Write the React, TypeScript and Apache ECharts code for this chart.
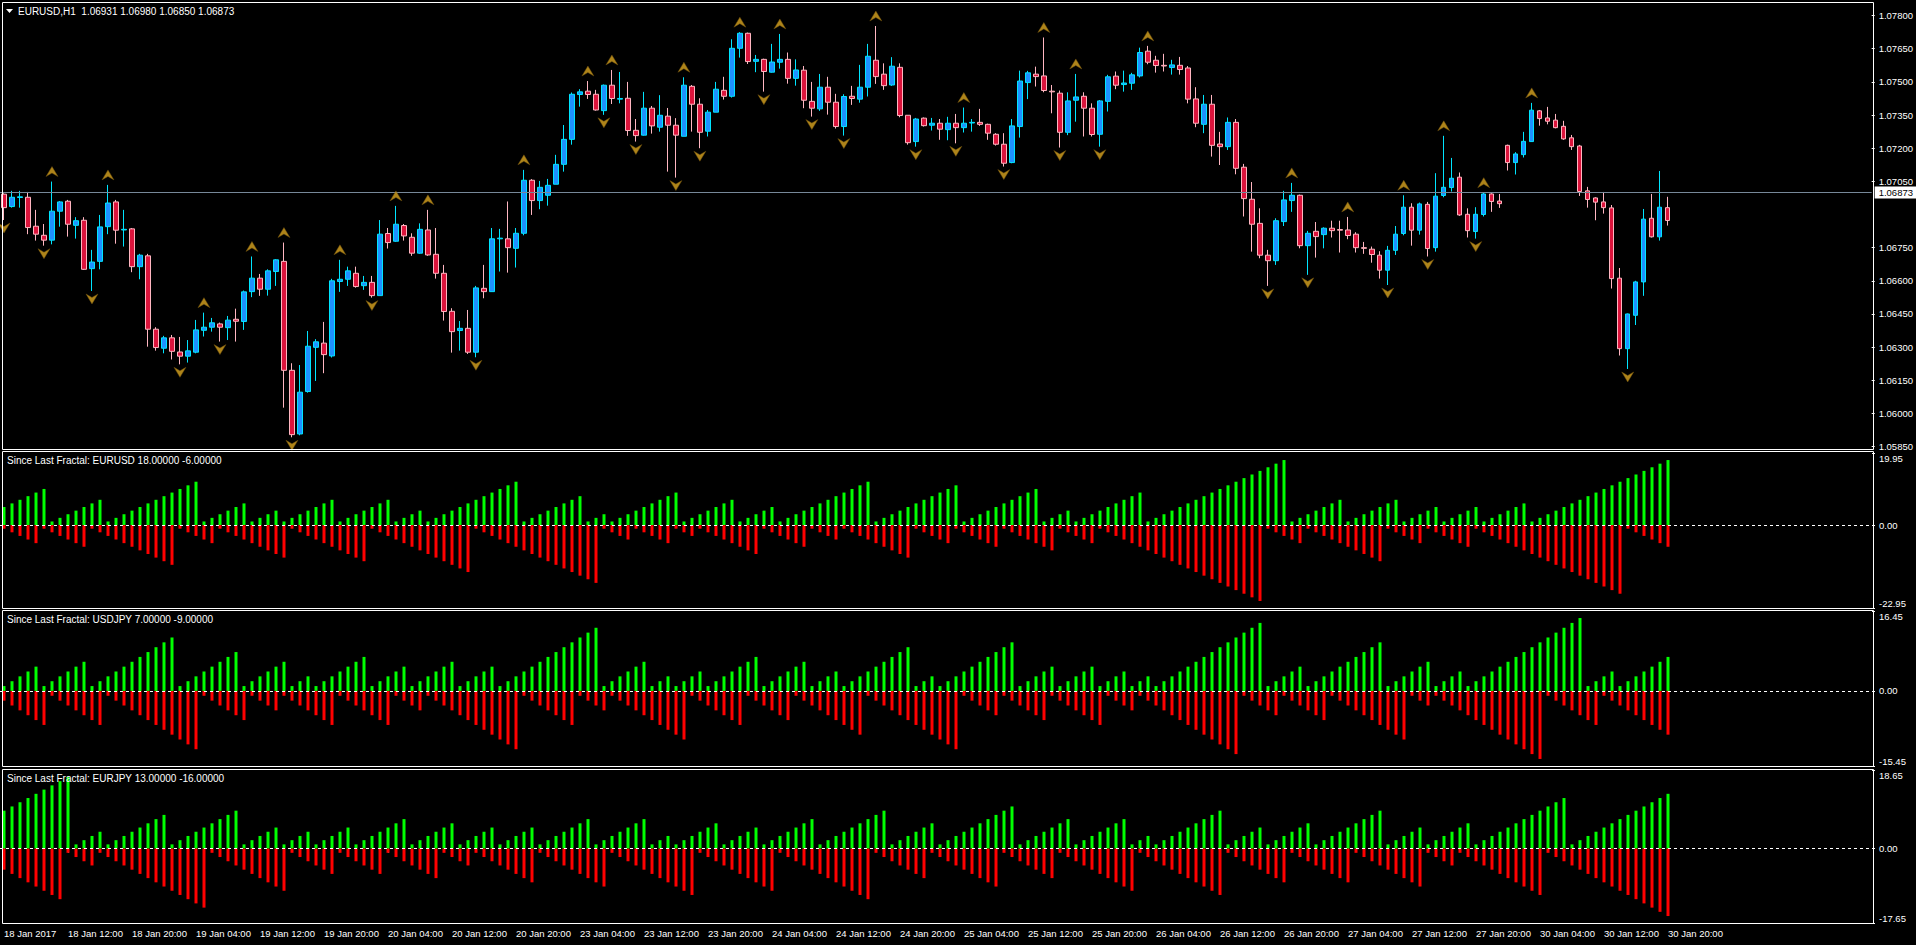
import { useEffect, useRef } from 'react';
import * as echarts from 'echarts';

// [open, close, low, high] — EURUSD H1, 18 Jan 04:00 .. 30 Jan 20:00
const CANDLES: number[][] = [
  [1.06992, 1.06931, 1.06875, 1.06996], [1.06936, 1.06978, 1.06931, 1.07007], [1.06977, 1.06980, 1.06931, 1.07007], [1.06978, 1.06841, 1.06811, 1.07002], [1.06847, 1.06811, 1.06782, 1.06921],
  [1.06806, 1.06784, 1.06759, 1.06857], [1.06784, 1.06915, 1.06765, 1.07049], [1.06915, 1.06957, 1.06845, 1.06961], [1.06960, 1.06856, 1.06800, 1.06966], [1.06851, 1.06872, 1.06791, 1.06888],
  [1.06874, 1.06652, 1.06649, 1.06888], [1.06655, 1.06685, 1.06554, 1.06740], [1.06688, 1.06844, 1.06652, 1.06898], [1.06845, 1.06952, 1.06811, 1.07034], [1.06957, 1.06829, 1.06768, 1.06966],
  [1.06830, 1.06833, 1.06755, 1.06921], [1.06835, 1.06664, 1.06639, 1.06839], [1.06664, 1.06716, 1.06607, 1.06722], [1.06713, 1.06381, 1.06302, 1.06722], [1.06381, 1.06298, 1.06284, 1.06390],
  [1.06295, 1.06342, 1.06272, 1.06351], [1.06342, 1.06281, 1.06244, 1.06355], [1.06278, 1.06259, 1.06222, 1.06346], [1.06259, 1.06283, 1.06230, 1.06332], [1.06277, 1.06378, 1.06272, 1.06423],
  [1.06376, 1.06390, 1.06348, 1.06456], [1.06390, 1.06410, 1.06370, 1.06432], [1.06405, 1.06390, 1.06325, 1.06411], [1.06388, 1.06422, 1.06332, 1.06441], [1.06426, 1.06417, 1.06325, 1.06474],
  [1.06416, 1.06550, 1.06378, 1.06556], [1.06551, 1.06612, 1.06526, 1.06710], [1.06612, 1.06562, 1.06532, 1.06631], [1.06562, 1.06645, 1.06533, 1.06652], [1.06642, 1.06695, 1.06577, 1.06698],
  [1.06688, 1.06195, 1.06026, 1.06773], [1.06195, 1.05904, 1.05892, 1.06227], [1.05907, 1.06096, 1.05901, 1.06219], [1.06099, 1.06304, 1.06094, 1.06373], [1.06299, 1.06324, 1.06147, 1.06336],
  [1.06318, 1.06266, 1.06182, 1.06414], [1.06260, 1.06600, 1.06253, 1.06609], [1.06597, 1.06607, 1.06550, 1.06695], [1.06607, 1.06645, 1.06577, 1.06664], [1.06634, 1.06574, 1.06569, 1.06664],
  [1.06578, 1.06593, 1.06559, 1.06622], [1.06593, 1.06533, 1.06524, 1.06622], [1.06533, 1.06811, 1.06533, 1.06875], [1.06814, 1.06773, 1.06746, 1.06839], [1.06779, 1.06856, 1.06776, 1.06939],
  [1.06850, 1.06803, 1.06782, 1.06857], [1.06797, 1.06725, 1.06713, 1.06815], [1.06725, 1.06833, 1.06722, 1.06860], [1.06830, 1.06717, 1.06713, 1.06921], [1.06720, 1.06634, 1.06610, 1.06839],
  [1.06634, 1.06461, 1.06420, 1.06672], [1.06462, 1.06370, 1.06275, 1.06476], [1.06375, 1.06385, 1.06284, 1.06418], [1.06385, 1.06277, 1.06269, 1.06468], [1.06277, 1.06568, 1.06254, 1.06577],
  [1.06566, 1.06551, 1.06521, 1.06672], [1.06551, 1.06790, 1.06551, 1.06839], [1.06790, 1.06793, 1.06642, 1.06835], [1.06790, 1.06750, 1.06637, 1.06959], [1.06747, 1.06815, 1.06660, 1.06839],
  [1.06815, 1.07055, 1.06806, 1.07102], [1.07055, 1.06963, 1.06898, 1.07060], [1.06963, 1.07023, 1.06924, 1.07052], [1.06987, 1.07032, 1.06940, 1.07061], [1.07037, 1.07127, 1.07037, 1.07170],
  [1.07127, 1.07240, 1.07094, 1.07305], [1.07240, 1.07444, 1.07216, 1.07452], [1.07443, 1.07455, 1.07388, 1.07467], [1.07458, 1.07443, 1.07423, 1.07504], [1.07444, 1.07373, 1.07370, 1.07464],
  [1.07370, 1.07485, 1.07351, 1.07488], [1.07485, 1.07425, 1.07400, 1.07554], [1.07422, 1.07425, 1.07403, 1.07545], [1.07426, 1.07280, 1.07256, 1.07500], [1.07281, 1.07257, 1.07230, 1.07332],
  [1.07259, 1.07381, 1.07257, 1.07455], [1.07381, 1.07301, 1.07266, 1.07391], [1.07295, 1.07349, 1.07275, 1.07440], [1.07345, 1.07304, 1.07094, 1.07382], [1.07304, 1.07259, 1.07067, 1.07336],
  [1.07254, 1.07485, 1.07254, 1.07521], [1.07480, 1.07399, 1.07275, 1.07486], [1.07399, 1.07272, 1.07200, 1.07426], [1.07277, 1.07363, 1.07253, 1.07373], [1.07363, 1.07467, 1.07363, 1.07500],
  [1.07462, 1.07435, 1.07420, 1.07523], [1.07435, 1.07652, 1.07429, 1.07693], [1.07652, 1.07720, 1.07610, 1.07725], [1.07720, 1.07592, 1.07581, 1.07723], [1.07593, 1.07602, 1.07544, 1.07622],
  [1.07602, 1.07547, 1.07456, 1.07605], [1.07544, 1.07590, 1.07542, 1.07672], [1.07589, 1.07602, 1.07560, 1.07717], [1.07602, 1.07516, 1.07492, 1.07633], [1.07516, 1.07554, 1.07483, 1.07602],
  [1.07553, 1.07417, 1.07381, 1.07572], [1.07412, 1.07381, 1.07343, 1.07500], [1.07378, 1.07476, 1.07369, 1.07536], [1.07476, 1.07408, 1.07352, 1.07523], [1.07408, 1.07298, 1.07289, 1.07446],
  [1.07298, 1.07434, 1.07257, 1.07444], [1.07435, 1.07425, 1.07396, 1.07482], [1.07422, 1.07476, 1.07406, 1.07577], [1.07476, 1.07616, 1.07434, 1.07672], [1.07598, 1.07524, 1.07491, 1.07753],
  [1.07535, 1.07483, 1.07464, 1.07584], [1.07486, 1.07571, 1.07482, 1.07612], [1.07566, 1.07348, 1.07340, 1.07584], [1.07349, 1.07225, 1.07216, 1.07349], [1.07230, 1.07332, 1.07207, 1.07337],
  [1.07336, 1.07302, 1.07298, 1.07339], [1.07304, 1.07313, 1.07280, 1.07337], [1.07313, 1.07286, 1.07238, 1.07332], [1.07284, 1.07313, 1.07236, 1.07342], [1.07313, 1.07293, 1.07222, 1.07355],
  [1.07293, 1.07313, 1.07271, 1.07384], [1.07314, 1.07317, 1.07275, 1.07332], [1.07317, 1.07308, 1.07301, 1.07378], [1.07308, 1.07268, 1.07238, 1.07311], [1.07263, 1.07218, 1.07212, 1.07268],
  [1.07218, 1.07132, 1.07117, 1.07268], [1.07135, 1.07301, 1.07132, 1.07332], [1.07298, 1.07504, 1.07248, 1.07551], [1.07497, 1.07541, 1.07422, 1.07550], [1.07535, 1.07524, 1.07479, 1.07569],
  [1.07527, 1.07461, 1.07453, 1.07701], [1.07458, 1.07455, 1.07358, 1.07486], [1.07449, 1.07272, 1.07203, 1.07461], [1.07272, 1.07414, 1.07259, 1.07453], [1.07417, 1.07432, 1.07320, 1.07536],
  [1.07435, 1.07381, 1.07253, 1.07453], [1.07381, 1.07262, 1.07253, 1.07403], [1.07263, 1.07414, 1.07207, 1.07418], [1.07412, 1.07523, 1.07366, 1.07532], [1.07526, 1.07485, 1.07467, 1.07547],
  [1.07488, 1.07495, 1.07456, 1.07551], [1.07494, 1.07532, 1.07464, 1.07541], [1.07527, 1.07633, 1.07520, 1.07655], [1.07639, 1.07589, 1.07580, 1.07663], [1.07598, 1.07574, 1.07542, 1.07618],
  [1.07575, 1.07572, 1.07547, 1.07627], [1.07565, 1.07577, 1.07533, 1.07600], [1.07575, 1.07556, 1.07533, 1.07613], [1.07563, 1.07422, 1.07403, 1.07572], [1.07423, 1.07313, 1.07295, 1.07476],
  [1.07308, 1.07399, 1.07268, 1.07441], [1.07399, 1.07213, 1.07162, 1.07441], [1.07219, 1.07207, 1.07124, 1.07274], [1.07207, 1.07317, 1.07192, 1.07339], [1.07317, 1.07109, 1.07082, 1.07332],
  [1.07114, 1.06972, 1.06891, 1.07129], [1.06969, 1.06856, 1.06732, 1.07047], [1.06860, 1.06716, 1.06702, 1.06928], [1.06716, 1.06691, 1.06577, 1.06740], [1.06691, 1.06872, 1.06672, 1.06883],
  [1.06868, 1.06966, 1.06848, 1.07007], [1.06963, 1.06987, 1.06912, 1.07043], [1.06987, 1.06759, 1.06747, 1.06990], [1.06759, 1.06815, 1.06627, 1.06826], [1.06824, 1.06800, 1.06705, 1.06866],
  [1.06809, 1.06838, 1.06747, 1.06842], [1.06838, 1.06827, 1.06796, 1.06872], [1.06832, 1.06829, 1.06728, 1.06872], [1.06830, 1.06805, 1.06788, 1.06889], [1.06811, 1.06750, 1.06728, 1.06820],
  [1.06750, 1.06747, 1.06722, 1.06776], [1.06743, 1.06719, 1.06682, 1.06755], [1.06716, 1.06648, 1.06610, 1.06734], [1.06648, 1.06738, 1.06581, 1.06758], [1.06738, 1.06811, 1.06717, 1.06848],
  [1.06814, 1.06933, 1.06806, 1.06987], [1.06933, 1.06829, 1.06759, 1.06951], [1.06829, 1.06948, 1.06809, 1.06954], [1.06946, 1.06746, 1.06710, 1.06957], [1.06750, 1.06983, 1.06732, 1.07087],
  [1.06986, 1.07023, 1.06978, 1.07256], [1.07022, 1.07064, 1.07004, 1.07156], [1.07069, 1.06898, 1.06894, 1.07090], [1.06901, 1.06827, 1.06796, 1.06928], [1.06823, 1.06901, 1.06791, 1.06933],
  [1.06900, 1.06993, 1.06891, 1.06999], [1.06993, 1.06959, 1.06912, 1.06996], [1.06961, 1.06949, 1.06930, 1.06993], [1.07213, 1.07135, 1.07099, 1.07216], [1.07135, 1.07174, 1.07081, 1.07182],
  [1.07171, 1.07231, 1.07158, 1.07274], [1.07230, 1.07372, 1.07230, 1.07405], [1.07369, 1.07334, 1.07302, 1.07373], [1.07337, 1.07322, 1.07308, 1.07387], [1.07327, 1.07293, 1.07290, 1.07355],
  [1.07299, 1.07242, 1.07238, 1.07324], [1.07247, 1.07207, 1.07192, 1.07260], [1.07210, 1.07004, 1.06984, 1.07215], [1.07007, 1.06968, 1.06931, 1.07025], [1.06975, 1.06956, 1.06874, 1.06978],
  [1.06957, 1.06931, 1.06904, 1.07002], [1.06930, 1.06610, 1.06565, 1.06943], [1.06612, 1.06293, 1.06262, 1.06658], [1.06293, 1.06450, 1.06201, 1.06452], [1.06444, 1.06595, 1.06400, 1.06600],
  [1.06595, 1.06879, 1.06532, 1.06925], [1.06883, 1.06799, 1.06796, 1.06993], [1.06799, 1.06933, 1.06782, 1.07097], [1.06931, 1.06873, 1.06850, 1.06980],
];

// bar indexes carrying an up / down fractal arrow
const UP_FRACTALS = [6, 13, 25, 31, 35, 42, 49, 53, 65, 73, 76, 85, 92, 97, 109, 120, 130, 134, 143, 161, 168, 175, 180, 185, 191];
const DOWN_FRACTALS = [0, 5, 11, 22, 27, 36, 46, 59, 75, 79, 84, 87, 95, 101, 105, 114, 119, 125, 132, 137, 158, 163, 173, 178, 184, 203];

const TIME_LABELS = [
  '18 Jan 2017', '18 Jan 12:00', '18 Jan 20:00', '19 Jan 04:00', '19 Jan 12:00', '19 Jan 20:00', '20 Jan 04:00',
  '20 Jan 12:00', '20 Jan 20:00', '23 Jan 04:00', '23 Jan 12:00', '23 Jan 20:00', '24 Jan 04:00', '24 Jan 12:00',
  '24 Jan 20:00', '25 Jan 04:00', '25 Jan 12:00', '25 Jan 20:00', '26 Jan 04:00', '26 Jan 12:00', '26 Jan 20:00',
  '27 Jan 04:00', '27 Jan 12:00', '27 Jan 20:00', '30 Jan 04:00', '30 Jan 12:00', '30 Jan 20:00',
];

const PRICE_TICKS = [1.078, 1.0765, 1.075, 1.0735, 1.072, 1.0705, 1.0675, 1.066, 1.0645, 1.063, 1.0615, 1.06, 1.0585];

// "Since Last Fractal" indicator values
const EURUSD_UP = [
  5, 6, 7, 8, 9, 10, 1, 2, 3, 4, 5, 6, 7, 1, 2, 3, 4, 5, 6, 7, 8, 9, 10, 11, 12, 1, 2, 3, 4, 5,
  6, 1, 2, 3, 4, 1, 2, 3, 4, 5, 6, 7, 1, 2, 3, 4, 5, 6, 7, 1, 2, 3, 4, 1, 2, 3, 4, 5, 6, 7,
  8, 9, 10, 11, 12, 1, 2, 3, 4, 5, 6, 7, 8, 1, 2, 3, 1, 2, 3, 4, 5, 6, 7, 8, 9, 1, 2, 3, 4, 5,
  6, 7, 1, 2, 3, 4, 5, 1, 2, 3, 4, 5, 6, 7, 8, 9, 10, 11, 12, 1, 2, 3, 4, 5, 6, 7, 8, 9, 10, 11,
  1, 2, 3, 4, 5, 6, 7, 8, 9, 10, 1, 2, 3, 4, 1, 2, 3, 4, 5, 6, 7, 8, 9, 1, 2, 3, 4, 5, 6, 7,
  8, 9, 10, 11, 12, 13, 14, 15, 16, 17, 18, 1, 2, 3, 4, 5, 6, 7, 1, 2, 3, 4, 5, 6, 7, 1, 2, 3, 4, 5,
  1, 2, 3, 4, 5, 1, 2, 3, 4, 5, 6, 1, 2, 3, 4, 5, 6, 7, 8, 9, 10, 11, 12, 13, 14, 15, 16, 17, 18,
];
const EURUSD_DN = [
  -1, -2, -3, -4, -5, -1, -2, -3, -4, -5, -6, -1, -2, -3, -4, -5, -6, -7, -8, -9,
  -10, -11, -1, -2, -3, -4, -5, -1, -2, -3, -4, -5, -6, -7, -8, -9, -1, -2, -3, -4,
  -5, -6, -7, -8, -9, -10, -1, -2, -3, -4, -5, -6, -7, -8, -9, -10, -11, -12, -13, -1,
  -2, -3, -4, -5, -6, -7, -8, -9, -10, -11, -12, -13, -14, -15, -16, -1, -2, -3, -4, -1,
  -2, -3, -4, -5, -1, -2, -3, -1, -2, -3, -4, -5, -6, -7, -8, -1, -2, -3, -4, -5,
  -6, -1, -2, -3, -4, -1, -2, -3, -4, -5, -6, -7, -8, -9, -1, -2, -3, -4, -5, -1,
  -2, -3, -4, -5, -6, -1, -2, -3, -4, -5, -6, -7, -1, -2, -3, -4, -5, -1, -2, -3,
  -4, -5, -6, -7, -8, -9, -10, -11, -12, -13, -14, -15, -16, -17, -18, -19, -20, -21, -1, -2,
  -3, -4, -5, -1, -2, -3, -4, -5, -6, -7, -8, -9, -10, -1, -2, -3, -4, -5, -1, -2,
  -3, -4, -5, -6, -1, -2, -3, -4, -5, -6, -7, -8, -9, -10, -11, -12, -13, -14, -15, -16,
  -17, -18, -19, -1, -2, -3, -4, -5, -6,
];
const USDJPY_UP = [
  1, 2, 3, 4, 5, 1, 2, 3, 4, 5, 6, 1, 2, 3, 4, 5, 6, 7, 8, 9,
  10, 11, 1, 2, 3, 4, 5, 6, 7, 8, 1, 2, 3, 4, 5, 6, 1, 2, 3, 1,
  2, 3, 4, 5, 6, 7, 1, 2, 3, 4, 5, 1, 2, 3, 4, 5, 6, 1, 2, 3,
  4, 5, 1, 2, 3, 4, 5, 6, 7, 8, 9, 10, 11, 12, 13, 1, 2, 3, 4, 5,
  6, 1, 2, 3, 1, 2, 3, 4, 1, 2, 3, 4, 5, 6, 7, 1, 2, 3, 4, 5,
  6, 1, 2, 3, 4, 1, 2, 3, 4, 5, 6, 7, 8, 9, 1, 2, 3, 1, 2, 3,
  4, 5, 6, 7, 8, 9, 10, 1, 2, 3, 4, 5, 1, 2, 3, 4, 5, 1, 2, 3,
  4, 1, 2, 3, 1, 2, 3, 4, 5, 6, 7, 8, 9, 10, 11, 12, 13, 14, 1, 2,
  3, 4, 5, 1, 2, 3, 4, 5, 6, 7, 8, 9, 10, 1, 2, 3, 4, 5, 6, 1,
  2, 3, 4, 1, 2, 3, 4, 5, 6, 7, 8, 9, 10, 11, 12, 13, 14, 15, 1, 2,
  3, 4, 1, 2, 3, 4, 5, 6, 7,
];
const USDJPY_DN = [
  -2, -3, -4, -5, -6, -7, -1, -2, -3, -4, -5, -6, -7, -1, -2, -3, -4, -5, -6, -7,
  -8, -9, -10, -11, -12, -1, -2, -3, -4, -5, -6, -1, -2, -3, -4, -1, -2, -3, -4, -5,
  -6, -7, -1, -2, -3, -4, -5, -6, -7, -1, -2, -3, -4, -1, -2, -3, -4, -5, -6, -7,
  -8, -9, -10, -11, -12, -1, -2, -3, -4, -5, -6, -7, -1, -2, -3, -4, -1, -2, -3, -4,
  -5, -6, -7, -8, -9, -10, -1, -2, -3, -4, -5, -6, -7, -1, -2, -3, -4, -5, -6, -1,
  -2, -3, -4, -5, -6, -7, -8, -9, -1, -2, -3, -4, -5, -6, -7, -8, -9, -10, -11, -12,
  -1, -2, -3, -4, -5, -1, -2, -3, -4, -5, -6, -1, -2, -3, -4, -5, -6, -7, -1, -2,
  -3, -4, -1, -2, -3, -4, -5, -6, -7, -8, -9, -10, -11, -12, -13, -1, -2, -3, -4, -5,
  -1, -2, -3, -4, -5, -6, -1, -2, -3, -4, -5, -6, -7, -8, -9, -10, -1, -2, -3, -1,
  -2, -3, -4, -5, -6, -7, -8, -9, -10, -11, -12, -13, -14, -1, -2, -3, -4, -5, -6, -7,
  -1, -2, -3, -4, -5, -6, -7, -8, -9,
];
const EURJPY_UP = [
  9, 10, 11, 12, 13, 14, 15, 16, 17, 1, 2, 3, 4, 1, 2, 3, 4, 5, 6, 7,
  8, 1, 2, 3, 4, 5, 6, 7, 8, 9, 1, 2, 3, 4, 5, 1, 2, 3, 4, 1,
  2, 3, 4, 5, 1, 2, 3, 4, 5, 6, 7, 1, 2, 3, 4, 5, 6, 1, 2, 3,
  4, 5, 1, 2, 3, 4, 5, 1, 2, 3, 4, 5, 6, 7, 1, 2, 3, 4, 5, 6,
  7, 1, 2, 3, 1, 2, 3, 4, 5, 6, 1, 2, 3, 4, 5, 1, 2, 3, 4, 5,
  6, 7, 1, 2, 3, 4, 5, 6, 7, 8, 9, 1, 2, 3, 4, 5, 6, 1, 2, 3,
  4, 5, 6, 7, 8, 9, 10, 1, 2, 3, 4, 5, 6, 7, 1, 2, 3, 4, 5, 6,
  7, 1, 2, 3, 1, 2, 3, 4, 5, 6, 7, 8, 9, 1, 2, 3, 4, 5, 1, 2,
  3, 4, 5, 6, 1, 2, 3, 4, 5, 6, 7, 8, 9, 1, 2, 3, 4, 5, 1, 2,
  3, 4, 5, 6, 1, 2, 3, 4, 5, 6, 7, 8, 9, 10, 11, 12, 1, 2, 3, 4,
  5, 6, 7, 8, 9, 10, 11, 12, 13,
];
const EURJPY_DN = [
  -5, -6, -7, -8, -9, -10, -11, -12, -1, -2, -3, -4, -1, -2, -3, -4, -5, -6, -7, -8,
  -9, -10, -11, -12, -13, -14, -1, -2, -3, -4, -5, -6, -7, -8, -9, -10, -1, -2, -3, -4,
  -5, -6, -1, -2, -3, -4, -5, -6, -1, -2, -3, -4, -5, -6, -7, -1, -2, -3, -4, -1,
  -2, -3, -4, -5, -6, -7, -8, -1, -2, -3, -4, -5, -6, -7, -8, -9, -1, -2, -3, -4,
  -5, -6, -7, -8, -9, -10, -11, -1, -2, -3, -4, -5, -6, -7, -8, -9, -10, -1, -2, -3,
  -4, -5, -6, -7, -8, -9, -10, -11, -12, -1, -2, -3, -4, -5, -6, -7, -1, -2, -3, -4,
  -5, -6, -7, -8, -9, -1, -2, -3, -4, -5, -6, -7, -1, -2, -3, -4, -5, -6, -7, -8,
  -9, -10, -1, -2, -3, -4, -5, -6, -7, -8, -9, -10, -11, -1, -2, -3, -4, -5, -6, -7,
  -8, -1, -2, -3, -4, -5, -6, -7, -8, -1, -2, -3, -4, -5, -6, -7, -8, -9, -1, -2,
  -3, -4, -1, -2, -3, -4, -5, -6, -7, -8, -9, -10, -11, -1, -2, -3, -4, -5, -6, -7,
  -8, -9, -10, -11, -12, -13, -14, -15, -16,
];

const FONT = "'Liberation Sans', Arial, sans-serif";
const FS = 9.5;
const HEAD_FS = 10;
const SLOTS = 234; // visible bar slots across the chart width (8px each)
const PLOT_W = SLOTS * 8;

export default function App() {
  const ref = useRef<HTMLDivElement>(null);

  useEffect(() => {
    if (!ref.current) return;
    const chart = echarts.init(ref.current, undefined, { renderer: 'svg' });
    const N = CANDLES.length;
    const last = CANDLES[N - 1];
    const cats = Array.from({ length: SLOTS }, (_, i) => String(i));

    const panels = [
      { name: 'EURUSD', up: EURUSD_UP, dn: EURUSD_DN, min: -22.95, max: 19.95, top: 453, height: 155, head: 460.5 },
      { name: 'USDJPY', up: USDJPY_UP, dn: USDJPY_DN, min: -15.45, max: 16.45, top: 611, height: 155, head: 619.5 },
      { name: 'EURJPY', up: EURJPY_UP, dn: EURJPY_DN, min: -17.65, max: 18.65, top: 770, height: 153, head: 778.5 },
    ];

    const grid: any[] = [{ left: 0, width: PLOT_W, top: 3, height: 446 }];
    panels.forEach((p) => grid.push({ left: 0, width: PLOT_W, top: p.top, height: p.height }));

    const labelStyle = { color: '#ffffff', fontSize: FS, fontFamily: FONT };
    const showIdx = (i: number) => i % 8 === 0 && i < N;

    const xAxis: any[] = grid.map((_, gi) => ({
      type: 'category',
      gridIndex: gi,
      data: cats,
      boundaryGap: true,
      axisLine: { show: false },
      axisTick: gi === 3
        ? { show: true, alignWithLabel: true, interval: showIdx, length: 4, lineStyle: { color: '#ffffff' } }
        : { show: false },
      axisLabel: gi === 3
        ? {
            show: true, interval: showIdx, align: 'left', margin: 5, ...labelStyle,
            formatter: (_v: string, idx: number) => TIME_LABELS[idx / 8] ?? '',
          }
        : { show: false },
      splitLine: { show: false },
    }));

    const yAxis: any[] = [
      {
        type: 'value', gridIndex: 0, position: 'right', min: 1.05839, max: 1.07857,
        splitLine: { show: false }, axisLine: { show: false },
        axisTick: { show: true, length: 3, customValues: PRICE_TICKS, lineStyle: { color: '#ffffff' } },
        axisLabel: { customValues: PRICE_TICKS, margin: 7, formatter: (v: number) => v.toFixed(5), ...labelStyle },
      },
    ];
    panels.forEach((p, k) => {
      const vals = [p.min, 0, p.max];
      yAxis.push({
        type: 'value', gridIndex: k + 1, position: 'right', min: p.min, max: p.max,
        splitLine: { show: false }, axisLine: { show: false },
        axisTick: { show: true, length: 3, customValues: vals, lineStyle: { color: '#ffffff' } },
        axisLabel: {
          customValues: vals, margin: 7, formatter: (v: number) => v.toFixed(2),
          verticalAlignMaxLabel: 'top', verticalAlignMinLabel: 'bottom', ...labelStyle,
        },
      });
    });

    const upPath = 'path://M6,0 L12,10 L6,6.5 L0,10 Z';
    const dnPath = 'path://M0,0 L6,3.5 L12,0 L6,10 Z';

    const series: any[] = [
      {
        type: 'candlestick',
        xAxisIndex: 0, yAxisIndex: 0,
        data: CANDLES,
        barWidth: 5,
        itemStyle: {
          color: '#1E90FF', color0: '#DC143C',
          borderColor: '#00E5FF', borderColor0: '#FFB6C1', borderWidth: 1,
        },
        markLine: {
          silent: true, symbol: ['none', 'none'], animation: false,
          lineStyle: { color: '#778899', width: 1, type: 'solid' },
          label: {
            show: true, position: 'end', distance: 3, formatter: () => last[1].toFixed(5),
            backgroundColor: '#ffffff', color: '#000000', padding: [1, 4, 0, 4], lineHeight: 11,
            fontSize: FS, fontFamily: FONT,
          },
          data: [{ yAxis: last[1] }],
        },
      },
      {
        type: 'scatter', xAxisIndex: 0, yAxisIndex: 0, z: 5,
        symbol: upPath, symbolSize: [12, 10], symbolOffset: [0, -10],
        itemStyle: { color: '#DAA520', borderColor: '#6b4e0c', borderWidth: 0.6 },
        data: UP_FRACTALS.map((i) => [i, CANDLES[i][3]]),
      },
      {
        type: 'scatter', xAxisIndex: 0, yAxisIndex: 0, z: 5,
        symbol: dnPath, symbolSize: [12, 10], symbolOffset: [0, 8],
        itemStyle: { color: '#DAA520', borderColor: '#6b4e0c', borderWidth: 0.6 },
        data: DOWN_FRACTALS.map((i) => [i, CANDLES[i][2]]),
      },
    ];

    panels.forEach((p, k) => {
      series.push({
        type: 'bar', xAxisIndex: k + 1, yAxisIndex: k + 1, data: p.up, barWidth: 3, barGap: '-100%',
        itemStyle: { color: '#00FF00' },
        markLine: {
          silent: true, symbol: ['none', 'none'], animation: false, label: { show: false },
          lineStyle: { color: '#ffffff', width: 1, type: [3, 3] },
          data: [{ yAxis: 0 }],
        },
      });
      series.push({
        type: 'bar', xAxisIndex: k + 1, yAxisIndex: k + 1, data: p.dn, barWidth: 3, barGap: '-100%',
        itemStyle: { color: '#FF0000' },
      });
    });

    const frame = (y: number, h: number) => ({
      type: 'rect', z: 100, silent: true,
      shape: { x: 2.5, y, width: 1871, height: h },
      style: { fill: 'none', stroke: '#ffffff', lineWidth: 1 },
    });
    const text = (x: number, y: number, t: string) => ({
      type: 'text', z: 100, silent: true, x, y,
      style: { text: t, fill: '#ffffff', fontSize: HEAD_FS, fontFamily: FONT, verticalAlign: 'middle' },
    });

    const header = `EURUSD,H1  ${last[0].toFixed(5)} ${last[3].toFixed(5)} ${last[2].toFixed(5)} ${last[1].toFixed(5)}`;
    const graphic: any[] = [
      frame(2.5, 447), frame(451.5, 157), frame(610.5, 156), frame(769.5, 154),
      { type: 'polygon', z: 100, silent: true, shape: { points: [[6, 9], [13, 9], [9.5, 13]] }, style: { fill: '#ffffff' } },
      text(18, 11, header),
    ];
    panels.forEach((p) => {
      const u = p.up[p.up.length - 1];
      const d = p.dn[p.dn.length - 1];
      graphic.push(text(7, p.head, `Since Last Fractal: ${p.name} ${u.toFixed(5)} ${d.toFixed(5)}`));
    });

    chart.setOption({
      animation: false,
      backgroundColor: '#000000',
      grid, xAxis, yAxis, series, graphic,
    });
    return () => chart.dispose();
  }, []);

  return (
    <div
      ref={ref}
      style={{ position: 'fixed', left: 0, top: 0, width: 1916, height: 945, background: '#000' }}
    />
  );
}
